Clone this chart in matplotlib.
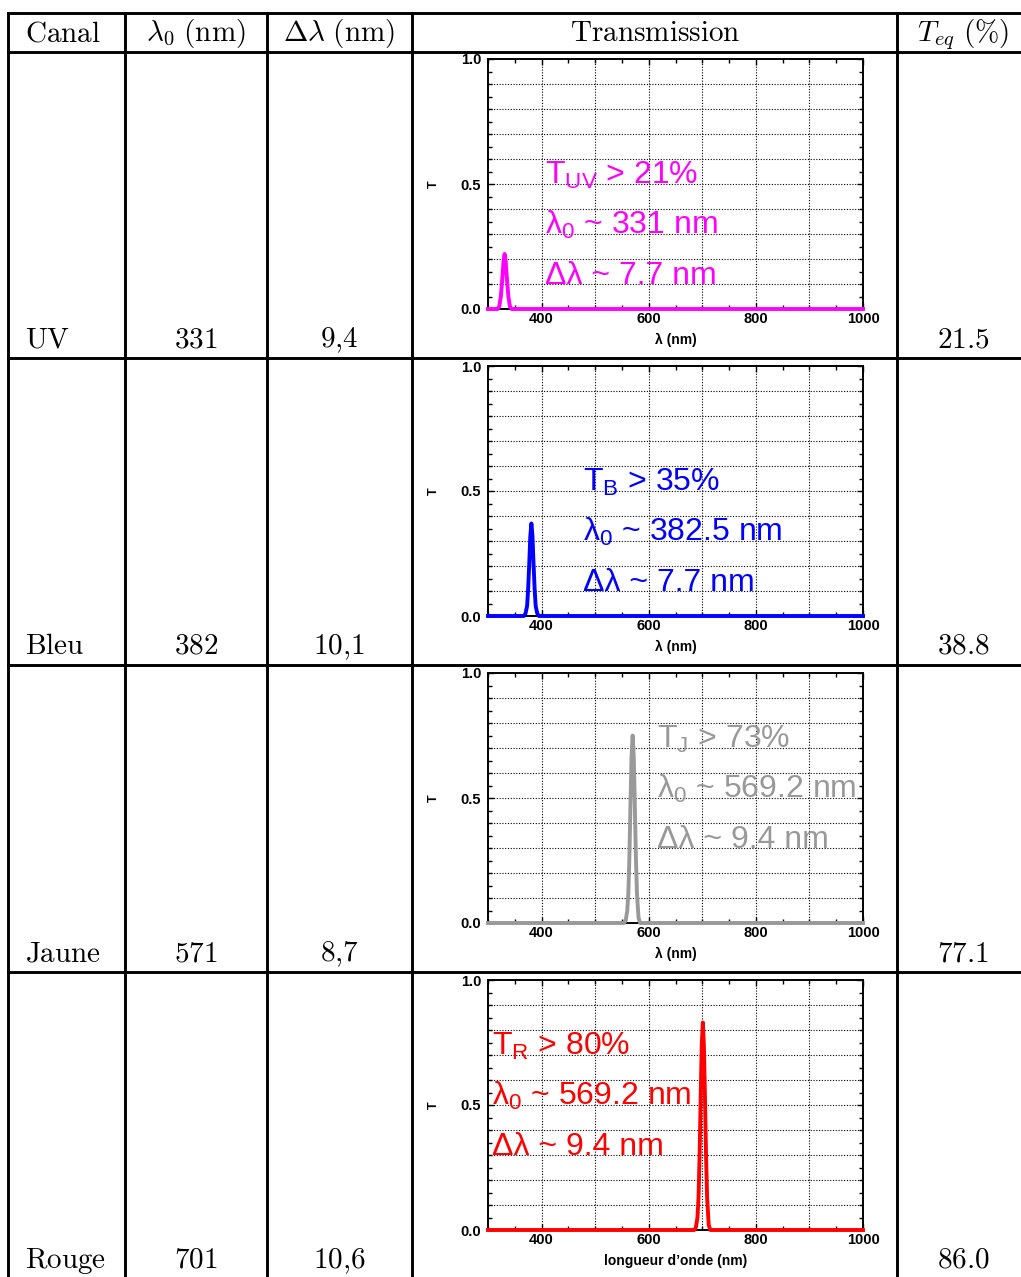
import matplotlib
matplotlib.use("Agg")
import matplotlib.pyplot as plt
from matplotlib.ticker import MultipleLocator, FixedLocator

plt.rcParams['font.family'] = ['Liberation Sans', 'DejaVu Sans']
plt.rcParams['mathtext.fontset'] = 'custom'
plt.rcParams['mathtext.rm'] = 'Liberation Sans'
plt.rcParams['mathtext.it'] = 'Liberation Sans:italic'
plt.rcParams['mathtext.bf'] = 'Liberation Sans:bold'

# table contents
channels = ['UV', 'Bleu', 'Jaune', 'Rouge']
lambda0 = ['331', '382', '571', '701']
dlambda = ['9{,}4', '10{,}1', '8{,}7', '10{,}6']
t_eq = ['21.5', '38.8', '77.1', '86.0']
headers = [r'$\mathrm{Canal}$', r'$\lambda_0\ (\mathrm{nm})$', r'$\Delta\lambda\ (\mathrm{nm})$',
           r'$\mathrm{Transmission}$', r'$T_{eq}\ (\%)$']

# annotation texts in each plot
sub_names = ['UV', 'B', 'J', 'R']
t_min = [21, 35, 73, 80]
lam_txt = ['331', '382.5', '569.2', '569.2']
dl_txt = ['7.7', '7.7', '9.4', '9.4']
colors = ['#ff00ff', '#0000ff', '#999999', '#ff0000']
xlabels = ['λ (nm)', 'λ (nm)', 'λ (nm)', 'longueur d’onde (nm)']

# transmission curves
wl_uv = [300, 318, 321, 324, 327, 329, 331, 333, 335, 338, 341, 344, 1000]
tr_uv = [0, 0, 0.01, 0.05, 0.13, 0.19, 0.22, 0.19, 0.13, 0.05, 0.01, 0, 0]
wl_b = [300, 367, 370, 373, 375, 377, 379, 381, 383, 385, 387, 389, 392, 395, 1000]
tr_b = [0, 0, 0.01, 0.04, 0.11, 0.21, 0.32, 0.37, 0.32, 0.21, 0.11, 0.04, 0.01, 0, 0]
wl_j = [300, 554, 557, 560, 562, 564, 566, 568, 570, 572, 574, 576, 578, 581, 584, 1000]
tr_j = [0, 0, 0.01, 0.05, 0.12, 0.27, 0.48, 0.67, 0.75, 0.67, 0.48, 0.27, 0.12, 0.02, 0, 0]
wl_r = [300, 685, 688, 691, 693, 695, 697, 699, 701, 703, 705, 707, 709, 712, 715, 1000]
tr_r = [0, 0, 0.01, 0.05, 0.13, 0.3, 0.53, 0.74, 0.83, 0.74, 0.53, 0.3, 0.13, 0.02, 0, 0]
curves = [(wl_uv, tr_uv), (wl_b, tr_b), (wl_j, tr_j), (wl_r, tr_r)]

# text positions (data coords) of the three annotation lines
ann_x = [406, 477, 615, 307]
ann_y = [[0.5, 0.3, 0.1], [0.5, 0.3, 0.1], [0.7, 0.5, 0.3], [0.7, 0.5, 0.3]]

W, H = 1021, 1277
fig = plt.figure(figsize=(W / 100, H / 100), dpi=100)
bg = fig.add_axes([0, 0, 1, 1], zorder=0)
bg.set_xlim(0, W)
bg.set_ylim(H, 0)
bg.axis('off')

# table grid
lw = 2.1
col_x = [8, 125, 267, 412, 897]
row_y = [13, 52, 358, 665, 972]
for y in row_y:
    bg.plot([col_x[0], W], [y, y], color='black', lw=lw, solid_capstyle='projecting')
for x in col_x:
    bg.plot([x, x], [row_y[0], H], color='black', lw=lw, solid_capstyle='projecting')

fs = 21
head_x = [25, 196, 339, 655, 963]
for i, h in enumerate(headers):
    bg.text(head_x[i], 41, h, fontsize=fs, math_fontfamily='cm',
            ha='left' if i == 0 else 'center', va='baseline')

row_step = 307
for i in range(4):
    yb = 347 + i * row_step
    bg.text(25, yb, r'$\mathrm{%s}$' % channels[i], fontsize=fs, math_fontfamily='cm', va='baseline')
    bg.text(196, yb, '$%s$' % lambda0[i], fontsize=fs, math_fontfamily='cm', ha='center', va='baseline')
    bg.text(339, yb, '$%s$' % dlambda[i], fontsize=fs, math_fontfamily='cm', ha='center', va='baseline')
    bg.text(963, yb, '$%s$' % t_eq[i], fontsize=fs, math_fontfamily='cm', ha='center', va='baseline')

# the four transmission plots
for i in range(4):
    top = 59 + i * row_step
    ax = fig.add_axes([488 / W, 1 - (top + 250) / H, 375 / W, 250 / H], zorder=2)
    ax.set_xlim(300, 1000)
    ax.set_ylim(0, 1)
    for gx in range(400, 1000, 100):
        ax.axvline(gx, color='black', lw=0.8, ls=(0, (1, 1.5)), zorder=1)
    for gy in [0.1, 0.2, 0.3, 0.4, 0.5, 0.6, 0.7, 0.8, 0.9]:
        ax.axhline(gy, color='black', lw=0.8, ls=(0, (1, 1.5)), zorder=1)
    wl, tr = curves[i]
    ax.plot(wl, tr, color=colors[i], lw=2.8, zorder=3, clip_on=False)

    ax.xaxis.set_major_locator(FixedLocator([400, 600, 800, 1000]))
    ax.xaxis.set_minor_locator(MultipleLocator(50))
    ax.yaxis.set_major_locator(FixedLocator([0.0, 0.5, 1.0]))
    ax.yaxis.set_minor_locator(MultipleLocator(0.05))
    ax.set_yticklabels(['0.0', '0.5', '1.0'])
    ax.tick_params(which='both', direction='in', top=True, right=True, width=1.0)
    ax.tick_params(which='major', length=4.5, labelsize=10.5)
    ax.tick_params(axis='x', which='major', pad=2)
    ax.tick_params(axis='y', which='major', pad=5)
    ax.tick_params(which='minor', length=3)
    for lab in ax.get_xticklabels() + ax.get_yticklabels():
        lab.set_fontweight('bold')
    for sp in ax.spines.values():
        sp.set_linewidth(1.4)
    ax.set_xlabel(xlabels[i], fontsize=10, fontweight='bold', labelpad=5)
    ax.set_ylabel('T', fontsize=9, fontweight='bold', labelpad=15)

    c = colors[i]
    ax.text(ann_x[i], ann_y[i][0], r'T$_{\mathrm{%s}}$ > %d%%' % (sub_names[i], t_min[i]),
            color=c, fontsize=23, va='baseline', zorder=4)
    ax.text(ann_x[i], ann_y[i][1], 'λ$_0$ ~ %s nm' % lam_txt[i],
            color=c, fontsize=23, va='baseline', zorder=4)
    ax.text(ann_x[i], ann_y[i][2], 'Δλ ~ %s nm' % dl_txt[i],
            color=c, fontsize=23, va='baseline', zorder=4)

fig.savefig('out.png', dpi=100)
